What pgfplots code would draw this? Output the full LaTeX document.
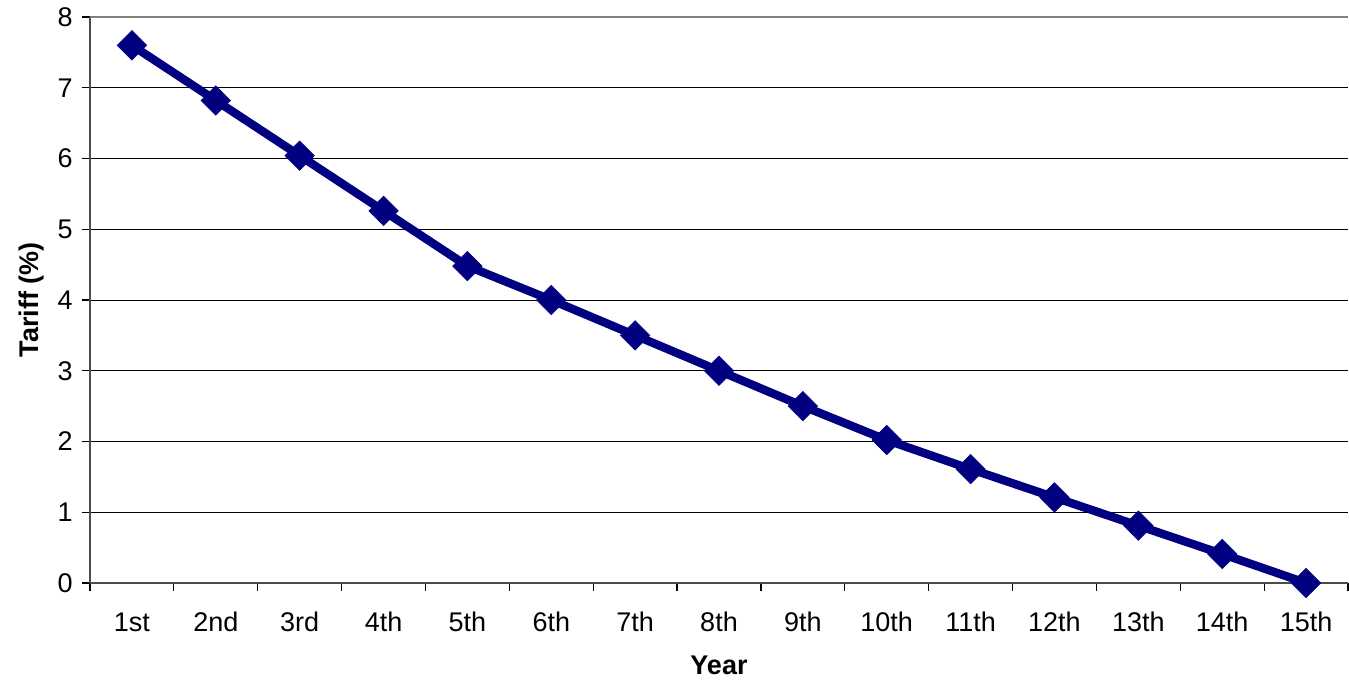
\documentclass[border=0pt]{standalone}
\usepackage{pgfplots}
\pgfplotsset{compat=1.18}
\usepackage{fontspec}
\setmainfont{Liberation Sans}
\definecolor{navy}{RGB}{0,0,128}
\begin{document}
\begin{tikzpicture}
\begin{axis}[
  scale only axis,
  width=629pt, height=283pt,
  xmin=-0.5, xmax=14.5, ymin=0, ymax=8,
  ytick={0,1,...,8},
  xtick={0,...,14},
  xticklabels={1st,2nd,3rd,4th,5th,6th,7th,8th,9th,10th,11th,12th,13th,14th,15th},
  minor xtick={-0.5,0.5,...,14.5},
  major x tick style={draw=none},
  minor tick length=3.8pt,
  major tick length=4.2pt,
  tick align=outside,
  tick style={black, line width=0.6pt},
  xtick pos=bottom, ytick pos=left,
  ymajorgrids,
  major grid style={black, line width=0.5pt},
  axis line style={draw=none},
  font=\fontsize{13.5pt}{16pt}\selectfont,
  /pgf/number format/assume math mode=true,
  xticklabel style={anchor=base, yshift=-19.8pt},
  yticklabel style={anchor=east, xshift=-1pt},
  xlabel={\textbf{Year}},
  ylabel={\textbf{Tariff (\%)}},
  xlabel style={at={(axis description cs:0.5,0)}, anchor=center, yshift=-41pt},
  ylabel style={at={(axis description cs:0,0.5)}, anchor=center, yshift=29pt},
  clip=false,
]
\draw[gray!60!black, line width=0.9pt] (axis cs:-0.5,0) -- (axis cs:-0.5,8);
\draw[gray, line width=0.9pt] (axis cs:-0.5,8) -- (axis cs:14.5,8);
\draw[gray!60!black, line width=0.9pt] (axis cs:-0.5,0) -- (axis cs:14.5,0);
\addplot[navy, line width=4.2pt, mark=square*, mark size=5.2pt, mark options={solid, rotate=45, fill=navy, line width=0.3pt}]
  coordinates {(0,7.6) (1,6.82) (2,6.04) (3,5.26) (4,4.48) (5,4.0) (6,3.5) (7,3.0) (8,2.5) (9,2.02) (10,1.61) (11,1.21) (12,0.81) (13,0.41) (14,0)};
\end{axis}
\pgfresetboundingbox
\path (current axis.south west) ++(-45pt,-48.5pt) coordinate (bl);
\path (current axis.north east) ++(0.5pt,8.5pt) coordinate (tr);
\path[use as bounding box] (bl) rectangle (tr);
\end{tikzpicture}
\end{document}
